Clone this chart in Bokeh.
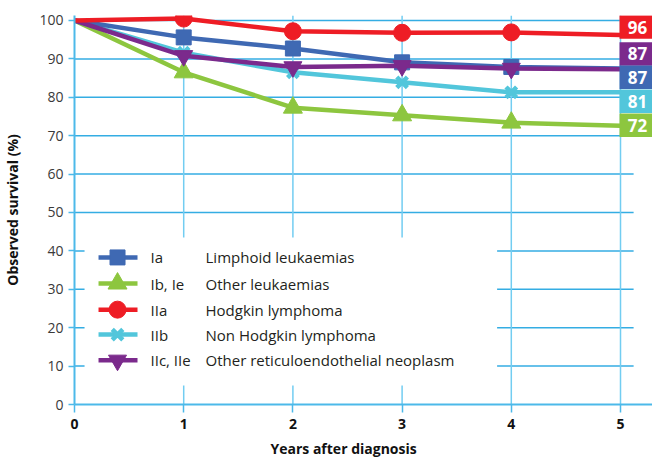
from bokeh.plotting import figure
from bokeh.models import Range1d, FixedTicker, Title
from bokeh.core.properties import value
from bokeh.embed import file_html
from bokeh.resources import INLINE

# ---------------- data ----------------
years = [0, 1, 2, 3, 4, 5]
ia = [100, 95.6, 92.7, 89.1, 87.9, 87.5]          # Limphoid leukaemias
ib = [100, 86.5, 77.3, 75.3, 73.4, 72.6]          # Other leukaemias
iia = [100, 100.5, 97.2, 96.8, 96.9, 96.2]        # Hodgkin lymphoma
iib = [100, 91.6, 86.5, 83.9, 81.3, 81.3]         # Non Hodgkin lymphoma
iic = [100, 90.8, 87.9, 88.2, 87.5, 87.3]         # Other reticuloendothelial neoplasm
codes = ["Ia", "Ib, Ie", "IIa", "IIb", "IIc, IIe"]
names = ["Limphoid leukaemias", "Other leukaemias", "Hodgkin lymphoma",
         "Non Hodgkin lymphoma", "Other reticuloendothelial neoplasm"]
end_labels = ["96", "87", "87", "81", "72"]       # red, purple, blue, cyan, green
y_ticks = [0, 10, 20, 30, 40, 50, 60, 70, 80, 90, 100]
x_ticks = [0, 1, 2, 3, 4, 5]

# ---------------- style ----------------
BLUE = "#3F69B3"
GREEN = "#8DC63F"
RED = "#EE1D25"
CYAN = "#52C6DB"
PURPLE = "#7B2A8C"
GRID_H = "#34ADE3"
GRID_V = "#72CDF1"
AXIS_C = "#4CB9E9"
FONT = "Open Sans"
X_END = 5.293
Y_END = 101.3

p = figure(width=652, height=462, output_backend="svg", toolbar_location=None,
           x_range=Range1d(0, X_END), y_range=Range1d(0, Y_END),
           min_border_left=74, min_border_right=0, min_border_top=15, min_border_bottom=58)
p.outline_line_color = None
p.xgrid.visible = False
p.ygrid.visible = False

# custom grid lines
gx_end = 5.12
hy = [t for t in y_ticks if t > 0]
p.segment(x0=[0] * len(hy), y0=hy, x1=[gx_end] * len(hy), y1=hy, line_color=GRID_H, line_width=1.5)
vx = [t for t in x_ticks if t > 0]
p.segment(x0=vx, y0=[0] * len(vx), x1=vx, y1=[Y_END] * len(vx), line_color=GRID_V, line_width=1.5)

# axes
for ax in (p.xaxis[0], p.yaxis[0]):
    ax.axis_line_color = AXIS_C
    ax.axis_line_width = 2
    ax.major_tick_line_color = AXIS_C
    ax.major_tick_line_width = 1.5
    ax.minor_tick_line_color = None
    ax.major_tick_in = 0
    ax.axis_label_text_font = FONT
    ax.axis_label_text_font_style = "bold"
    ax.axis_label_text_font_size = "14px"
    ax.axis_label_text_color = "#111111"
    ax.major_label_text_font = FONT

p.xaxis.ticker = FixedTicker(ticks=x_ticks)
p.yaxis.ticker = FixedTicker(ticks=y_ticks)
p.xaxis.major_tick_out = 8
p.xaxis.major_label_standoff = 6
p.xaxis.major_label_text_font_style = "bold"
p.xaxis.major_label_text_font_size = "14px"
p.xaxis.major_label_text_color = "#111111"

p.yaxis.major_tick_out = 6
p.yaxis.major_label_standoff = 5
p.yaxis.major_label_text_font_size = "14px"
p.yaxis.major_label_text_color = "#3a3a3a"
p.yaxis.axis_label = "Observed survival (%)"
p.yaxis.axis_label_standoff = 14

# x axis title, placed under the 0-5 span
p.add_layout(Title(text="Years after diagnosis", align="left", offset=196, standoff=10,
                   text_font=FONT, text_font_style="bold", text_font_size="14px",
                   text_color="#111111"), "below")

# series (drawing order: green, cyan, blue, purple, red)
LW = 4.5
mx = years[1:5]
p.line(years, ib, line_color=GREEN, line_width=LW)
p.scatter(mx, ib[1:5], marker="triangle", size=19, color=GREEN)
p.line(years, iib, line_color=CYAN, line_width=LW)
p.scatter(mx, iib[1:5], marker="x", size=15, line_color=CYAN, line_width=4.5)
p.line(years, ia, line_color=BLUE, line_width=LW)
p.scatter(mx, ia[1:5], marker="square", size=15, color=BLUE)
p.line(years, iic, line_color=PURPLE, line_width=LW)
p.scatter(mx, iic[1:5], marker="inverted_triangle", size=18, color=PURPLE)
p.line(years, iia, line_color=RED, line_width=LW)
p.scatter(mx, iia[1:5], marker="circle", size=17, color=RED)

# end labels (boxes)
box_y = [98.3, 91.3, 85.2, 79.0, 72.7]
box_colors = [RED, PURPLE, BLUE, CYAN, GREEN]
p.rect(x=[5.142] * 5, y=box_y, width=33, height=23.5, width_units="screen", height_units="screen",
       fill_color=box_colors, line_color=None)
p.text(x=[5.156] * 5, y=box_y, text=end_labels, text_color="white",
       text_font=value(FONT), text_font_style="bold", text_font_size="17px",
       text_align="center", text_baseline="middle")

# custom legend
p.quad(left=[0.092], right=[3.87], bottom=[4.95], top=[43.5], fill_color="white", line_color=None)
leg_y = [38.3, 31.5, 24.7, 18.2, 11.5]
leg_colors = [BLUE, GREEN, RED, CYAN, PURPLE]
leg_markers = ["square", "triangle", "circle", "x", "inverted_triangle"]
leg_sizes = [15, 19, 17, 15, 18]
p.segment(x0=[0.22] * 5, y0=leg_y, x1=[0.577] * 5, y1=leg_y, line_color=leg_colors, line_width=LW)
for yy, c, m, s in zip(leg_y, leg_colors, leg_markers, leg_sizes):
    if m == "x":
        p.scatter([0.394], [yy], marker=m, size=s, line_color=c, line_width=4.5)
    else:
        p.scatter([0.394], [yy], marker=m, size=s, color=c)
p.text(x=[0.696] * 5, y=leg_y, text=codes, text_color="#231F20", text_font=value(FONT),
       text_font_size="15px", text_baseline="middle")
p.text(x=[1.2] * 5, y=leg_y, text=names, text_color="#231F20", text_font=value(FONT),
       text_font_size="15px", text_baseline="middle")

open("out.html", "w").write(file_html(p, INLINE))
